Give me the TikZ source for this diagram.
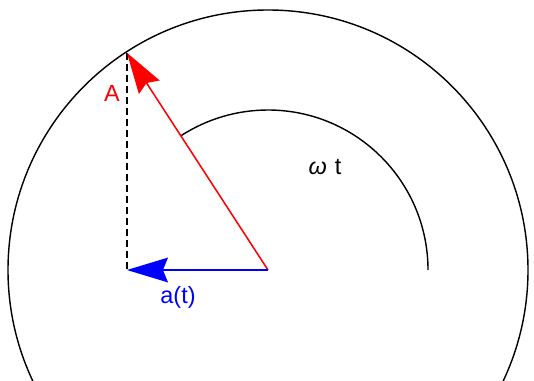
\documentclass[tikz,border=0pt]{standalone}
\usepackage{fontspec}
\setmainfont{Liberation Sans}
\usetikzlibrary{arrows.meta,calc}

\begin{document}
\begin{tikzpicture}[x=0.03cm,y=0.03cm,line width=1.2pt,
  vec/.style={line width=1.3pt,-{Stealth[length=12.3mm,width=7.4mm,inset=1.5mm]}},
  lbl/.style={font=\fontsize{20}{22}\selectfont,inner sep=0pt}]
\clip (0,0) rectangle (534,380);
\coordinate (O) at (268,110); \coordinate (P) at ($(O)+(123:259)$); \coordinate (F) at (P |- O);
\draw (O) circle (260);
\draw ($(O)+(0:160)$) arc (0:123:160);
\draw[dash pattern=on 2.1mm off 1.2mm] (P)--(F);
\draw[vec,red] (O)--(P);
\draw[vec,blue] (O)--(F);
\node[lbl,red] (amp) at (112,287) {A};
\node[lbl] (wt) at (325,213) {{\itshape ω}\,\,t};
\node[lbl,blue] (at) at (178,83) {a(t)};
\end{tikzpicture}
\end{document}
